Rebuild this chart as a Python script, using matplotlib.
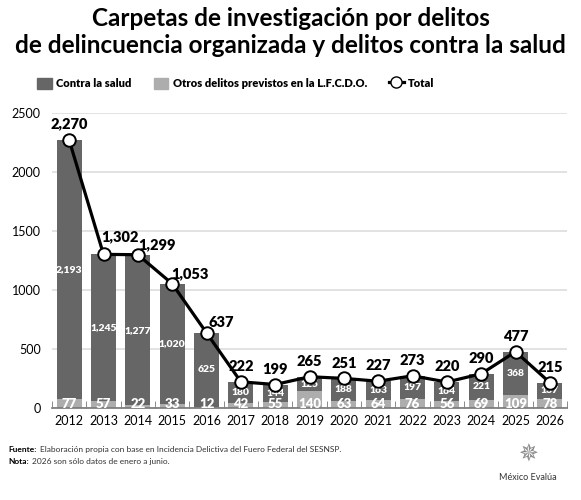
import numpy as np
import matplotlib as mpt
from matplotlib import pyplot as plt

mpt.use('Agg')
plt.rcParams['font.family'] = ['Lato', 'DejaVu Sans']

years = ['2012', '2013', '2014', '2015', '2016', '2017', '2018', '2019',
         '2020', '2021', '2022', '2023', '2024', '2025', '2026']
contra_salud = [2193, 1245, 1277, 1020, 625, 180, 144, 125, 188, 163, 197, 164, 221, 368, 137]
otros_lfcdo = [77, 57, 22, 33, 12, 42, 55, 140, 63, 64, 76, 56, 69, 109, 78]
total = [2270, 1302, 1299, 1053, 637, 222, 199, 265, 251, 227, 273, 220, 290, 477, 215]

dark = '#666666'
light = '#adadad'

fig = plt.figure(figsize=(5.81, 5.0), dpi=100)
ax = fig.add_axes([0.0895, 0.184, 0.8865, 0.590])

x = np.arange(len(years))
ax.bar(x, otros_lfcdo, width=0.73, color=light, zorder=2)
ax.bar(x, contra_salud, width=0.73, bottom=otros_lfcdo, color=dark, zorder=2)
# linea debajo de las etiquetas, circulos encima
ax.plot(x, total, color='black', lw=2.3, zorder=2.5)
ax.plot(x, total, ls='none', marker='o', ms=9, mfc='white', mec='black',
        mew=1.4, zorder=4)

# etiquetas dentro de las barras
for i in range(len(years)):
    ax.text(x[i], otros_lfcdo[i] + contra_salud[i] / 2, f'{contra_salud[i]:,}',
            ha='center', va='center', color='white', fontsize=7.5,
            fontweight='heavy', zorder=3)
    ax.text(x[i], 36, f'{otros_lfcdo[i]:,}', ha='center', va='center',
            color='white', fontsize=9.5, fontweight='heavy', zorder=3)

# etiquetas del total, corridas a la derecha donde la linea baja
nudge = {0: (0, 12), 1: (12, 13), 2: (14, 7.5), 3: (12.5, 7.5), 4: (10.5, 7.5)}
for i in range(len(years)):
    ax.annotate(f'{total[i]:,}', (x[i], total[i]), xytext=nudge.get(i, (0, 11)),
                textcoords='offset points', ha='center', va='center',
                fontsize=10.5, fontweight='heavy', zorder=5)

ax.set_xlim(-0.5, 14.5)
ax.set_ylim(0, 2500)
ax.set_yticks([0, 500, 1000, 1500, 2000, 2500])
ax.set_xticks(x)
ax.set_xticklabels(years, fontsize=9)
ax.tick_params(axis='x', length=0, pad=5)
ax.tick_params(axis='y', length=0, labelsize=9, pad=8)
ax.set_xticks(np.arange(-0.5, 15, 1), minor=True)
ax.tick_params(axis='x', which='minor', direction='in', length=5, color='#777777')
ax.grid(axis='y', color='#dddddd', lw=1.2, zorder=0)
for s in ['top', 'right', 'left']:
    ax.spines[s].set_visible(False)
ax.spines['bottom'].set_color('#777777')
ax.spines['bottom'].set_linewidth(1.2)

fig.text(0.5, 0.963, 'Carpetas de investigación por delitos', ha='center',
         va='center', fontsize=17.5, fontweight='bold')
fig.text(0.5, 0.909, 'de delincuencia organizada y delitos contra la salud',
         ha='center', va='center', fontsize=17.5, fontweight='bold')

# leyenda
ax.legend(handles=[
    plt.Rectangle((0, 0), 1, 1, color=dark, label='Contra la salud'),
    plt.Rectangle((0, 0), 1, 1, color=light, label='Otros delitos previstos en la L.F.C.D.O.'),
    plt.Line2D([], [], color='black', lw=2.3, marker='o', ms=8, mfc='white',
               mec='black', label='Total')],
    loc='center', bbox_to_anchor=(0.357, 1.10), ncol=3, frameon=False,
    prop={'size': 8, 'weight': 'heavy'}, handlelength=1.3, handleheight=1.1,
    columnspacing=2.0, handletextpad=0.4)

fig.text(0.014, 0.101, 'Fuente:', fontsize=6, fontweight='bold', va='center')
fig.text(0.068, 0.101, 'Elaboración propia con base en Incidencia Delictiva del Fuero Federal del SESNSP.',
         fontsize=6, va='center', color='#333333')
fig.text(0.014, 0.077, 'Nota:', fontsize=6, fontweight='bold', va='center')
fig.text(0.055, 0.077, '2026 son sólo datos de enero a junio.', fontsize=6,
         va='center', color='#333333')
fig.text(0.909, 0.09, '✵', fontsize=17, ha='center', va='center', color='#888888',
         family='DejaVu Sans')
fig.text(0.909, 0.046, 'México Evalúa', fontsize=6.5, ha='center', va='center',
         color='#333333')

plt.savefig('out.png', dpi=100)
